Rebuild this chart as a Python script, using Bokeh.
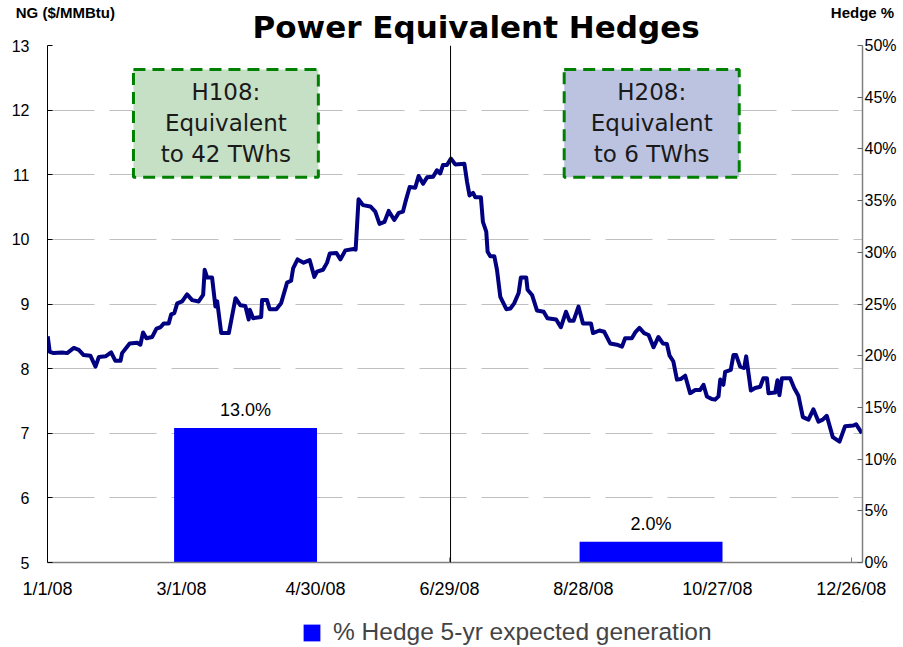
from bokeh.plotting import figure
from bokeh.layouts import column
from bokeh.models import (Range1d, LinearAxis, FixedTicker, PrintfTickFormatter, Span,
                          BoxAnnotation, Label, Legend, LegendItem, ColumnDataSource, Title)
from bokeh.core.properties import value
from bokeh.embed import file_html
from bokeh.resources import INLINE

# ---------------- data ----------------
# days since 1/1/08
ng_days = [0.1, 1.0, 2.8, 6.6, 8.8, 11.8, 14.0, 16.2, 19.2, 21.5, 23.0, 26.0, 28.5, 30.4, 32.7,
           33.4, 36.8, 40.2, 41.6, 42.8, 44.3, 46.9, 48.8, 50.6, 52.1, 54.3, 55.4, 56.8, 58.1,
           60.3, 62.5, 64.8, 67.7, 69.7, 70.4, 71.5, 73.7, 75.2, 76.0, 77.8, 81.2, 84.2, 86.4,
           88.6, 90.1, 90.6, 92.1, 95.7, 96.1, 98.3, 99.5, 102.5, 104.6, 107.3, 109.1, 110.0,
           112.0, 114.7, 117.4, 119.5, 120.7, 123.4, 125.2, 126.4, 129.4, 131.2, 133.4, 137.1,
           138.0, 139.3, 141.3, 144.6, 146.8, 148.7, 150.9, 152.8, 155.3, 157.3, 159.2, 160.3,
           162.2, 164.7, 166.2, 168.2, 170.0, 172.7, 174.4, 175.9, 177.1, 178.9, 180.7, 182.6,
           186.7, 187.9, 189.0, 190.6, 191.6, 194.1, 195.0, 196.5, 197.1, 198.3, 200.1, 201.3,
           202.8, 205.5, 207.3, 209.0, 211.0, 212.0, 214.4, 215.0, 217.0, 219.2, 222.2, 223.9,
           227.8, 229.9, 232.2, 233.8, 235.6, 237.8, 239.8, 243.4, 244.3, 247.2, 249.3, 252.0,
           255.0, 257.3, 258.7, 261.7, 263.2, 265.1, 267.2, 269.2, 271.4, 273.6, 275.6, 277.4,
           278.6, 280.3, 281.9, 283.7, 285.6, 287.8, 290.1, 292.3, 293.8, 295.3, 297.5, 299.0,
           300.5, 301.3, 302.7, 303.5, 306.0, 307.2, 308.4, 310.2, 312.0, 312.9, 315.0, 316.9,
           319.2, 320.6, 322.2, 322.9, 325.9, 326.9, 327.8, 328.9, 332.6, 334.4, 336.3, 338.3,
           340.8, 343.0, 345.3, 347.2, 349.0, 351.7, 354.7, 357.2, 360.9, 362.1, 364.7]
ng_price = [8.50, 8.26, 8.24, 8.25, 8.24, 8.32, 8.29, 8.21, 8.20, 8.03, 8.18, 8.19, 8.25, 8.12, 8.12,
            8.24, 8.39, 8.40, 8.37, 8.56, 8.47, 8.49, 8.62, 8.64, 8.70, 8.70, 8.84, 8.86, 9.01,
            9.04, 9.15, 9.06, 9.04, 9.14, 9.53, 9.41, 9.41, 8.96, 9.04, 8.55, 8.55, 9.09, 8.98,
            8.97, 8.76, 8.91, 8.78, 8.80, 9.06, 9.06, 8.92, 8.92, 9.01, 9.33, 9.36, 9.55,
            9.69, 9.64, 9.68, 9.42, 9.50, 9.53, 9.64, 9.78, 9.79, 9.69, 9.83, 9.85,
            9.84, 10.62, 10.53, 10.51, 10.43, 10.24, 10.27, 10.44, 10.30, 10.41, 10.43, 10.58,
            10.81, 10.80, 10.98, 10.86, 10.96, 10.97, 11.07, 11.02, 11.15, 11.15, 11.25, 11.16,
            11.17, 10.89, 10.68, 10.72, 10.65, 10.65, 10.27, 10.12, 9.81, 9.74, 9.74, 9.53,
            9.11, 8.92, 8.93, 9.01, 9.17, 9.41, 9.41, 9.22, 9.14, 8.90, 8.88, 8.78,
            8.76, 8.64, 8.88, 8.74, 8.74, 8.96, 8.70, 8.70, 8.55, 8.59, 8.57, 8.39,
            8.37, 8.34, 8.47, 8.47, 8.56, 8.63, 8.55, 8.52, 8.33, 8.49, 8.39, 8.38,
            8.20, 8.11, 7.83, 7.84, 7.89, 7.62, 7.67, 7.67, 7.75, 7.57, 7.53, 7.52,
            7.57, 7.83, 7.75, 7.95, 7.98, 8.21, 8.21, 8.03, 8.01, 8.19, 7.66, 7.70,
            7.72, 7.85, 7.85, 7.62, 7.63, 7.82, 7.59, 7.85, 7.85, 7.70, 7.58, 7.25,
            7.21, 7.37, 7.18, 7.21, 7.27, 6.94, 6.87, 7.11, 7.12, 7.14, 7.00]

hedge_period = ["H108", "H208"]
hedge_mid_day = [88.7, 270.3]
hedge_pct = [13.0, 2.0]
hedge_twh = [42, 6]

tick_days = [0, 60, 120, 180, 240, 300, 360]
tick_labels = ["1/1/08", "3/1/08", "4/30/08", "6/29/08", "8/28/08", "10/27/08", "12/26/08"]

title_text = "Power Equivalent Hedges"
left_axis_title = "NG ($/MMBtu)"
right_axis_title = "Hedge %"
legend_text = "% Hedge 5-yr expected generation"

BAR_COLOR = "#0000ff"

# ---------------- main figure ----------------
p = figure(width=902, height=601, output_backend="svg", toolbar_location=None,
           x_range=Range1d(0, 365), y_range=Range1d(5, 13),
           min_border_left=47, min_border_right=40, min_border_top=45, min_border_bottom=38)
p.outline_line_color = None
p.background_fill_color = "white"
p.border_fill_color = "white"

p.xgrid.visible = False
p.ygrid.grid_line_color = "#c0c0c0"
p.ygrid.grid_line_dash = "47 15"
p.ygrid.grid_line_width = 1

# x axis
xa = p.xaxis[0]
xa.ticker = FixedTicker(ticks=tick_days, minor_ticks=[180, 360])
xa.major_label_overrides = {d: s for d, s in zip(tick_days, tick_labels)}
xa.major_tick_in = 0
xa.major_tick_out = 0
xa.minor_tick_in = 5
xa.minor_tick_out = 0
xa.minor_tick_line_color = "#808080"
xa.axis_line_color = "#808080"
xa.axis_line_width = 1.5
xa.major_label_text_font = "Liberation Sans"
xa.major_label_text_font_size = "18px"
xa.major_label_text_color = "#000000"
xa.major_label_standoff = 16

# left axis
ya = p.yaxis[0]
ya.ticker = FixedTicker(ticks=list(range(5, 14)))
ya.major_tick_in = 5
ya.major_tick_out = 0
ya.minor_tick_line_color = None
ya.axis_line_color = "#000000"
ya.major_tick_line_color = "#000000"
ya.major_label_text_font = "Liberation Sans"
ya.major_label_text_font_size = "16px"
ya.major_label_text_color = "#000000"
ya.major_label_standoff = 18

# right axis
p.extra_y_ranges = {"pct": Range1d(0, 50)}
ra = LinearAxis(y_range_name="pct", ticker=FixedTicker(ticks=list(range(0, 51, 5))),
                formatter=PrintfTickFormatter(format="%d%%"))
ra.major_tick_in = 5
ra.major_tick_out = 0
ra.minor_tick_line_color = None
ra.axis_line_color = "#808080"
ra.axis_line_width = 1.5
ra.major_tick_line_color = "#606060"
ra.major_label_text_font = "Liberation Sans"
ra.major_label_text_font_size = "16px"
ra.major_label_text_color = "#000000"
ra.major_label_standoff = 2
p.add_layout(ra, "right")

# header: main title (closest to the frame) and the two axis titles above it
p.add_layout(Title(text=title_text, align="left", offset=205, standoff=2,
                   text_font="DejaVu Sans", text_font_style="bold", text_font_size="31px",
                   text_color="#000000"), "above")
ha = LinearAxis(ticker=FixedTicker(ticks=[8, 365]))
ha.major_label_overrides = {8: left_axis_title, 365: right_axis_title}
ha.axis_line_color = None
ha.major_tick_line_color = None
ha.minor_tick_line_color = None
ha.major_label_standoff = -21
ha.major_label_text_font = "Liberation Sans"
ha.major_label_text_font_style = "bold"
ha.major_label_text_font_size = "15px"
ha.major_label_text_color = "#000000"
p.add_layout(ha, "above")

# bars
bar_src = ColumnDataSource(dict(x=hedge_mid_day, top=hedge_pct,
                                lbl=[f"{v:.1f}%" for v in hedge_pct]))
bars = p.vbar(x="x", top="top", bottom=0, width=64, source=bar_src, y_range_name="pct",
              fill_color=BAR_COLOR, line_color=None)
p.text(x="x", y="top", text="lbl", source=bar_src, y_range_name="pct",
       text_align="center", text_baseline="bottom", y_offset=-8,
       text_font=value("Liberation Sans"), text_font_size="18px", text_color="#000000")

# NG line
p.line(ng_days, ng_price, line_color="#000080", line_width=4, line_join="round")

# H1/H2 divider
p.add_layout(Span(location=180.5, dimension="height", line_color="#000000", line_width=1))

# text boxes
boxes = [(38.5, 121.3, "#c6e0c6"), (231.4, 309.8, "#bcc3e0")]
for (l, r, fc), per, twh in zip(boxes, hedge_period, hedge_twh):
    p.add_layout(BoxAnnotation(left=l, right=r, bottom=10.96, top=12.63,
                               fill_color=fc, fill_alpha=1.0, line_color="#008000",
                               line_alpha=1.0, line_width=3, line_dash="12 7",
                               level="underlay"))
    p.add_layout(Label(x=(l + r) / 2, y=11.80, text=f"{per}:\nEquivalent\nto {twh} TWhs",
                       text_align="center", text_baseline="middle",
                       text_font="DejaVu Sans", text_font_size="23px",
                       text_color="#1a1a1a", text_line_height=1.2))

# ---------------- legend strip ----------------
# (its key renderer uses the same bar series, but lies outside this strip's ranges)
q = figure(width=902, height=45, output_backend="svg", toolbar_location=None,
           x_range=Range1d(-2, -1), y_range=Range1d(-2, -1),
           x_axis_location=None, y_axis_location=None,
           min_border_left=0, min_border_right=0, min_border_top=0, min_border_bottom=0)
q.outline_line_color = None
q.grid.visible = False
q.background_fill_color = "white"
q.border_fill_color = "white"
key = q.vbar(x=hedge_mid_day, top=hedge_pct, bottom=0, width=64,
             fill_color=BAR_COLOR, line_color=None)
legend = Legend(items=[LegendItem(label=legend_text, renderers=[key])],
                location=(254, 0), glyph_width=21, glyph_height=21, label_standoff=11,
                label_text_font="Liberation Sans", label_text_font_size="24.5px",
                padding=0, margin=0, border_line_alpha=0, background_fill_alpha=0)
q.add_layout(legend)

open("out.html", "w").write(file_html(column(p, q), INLINE))
